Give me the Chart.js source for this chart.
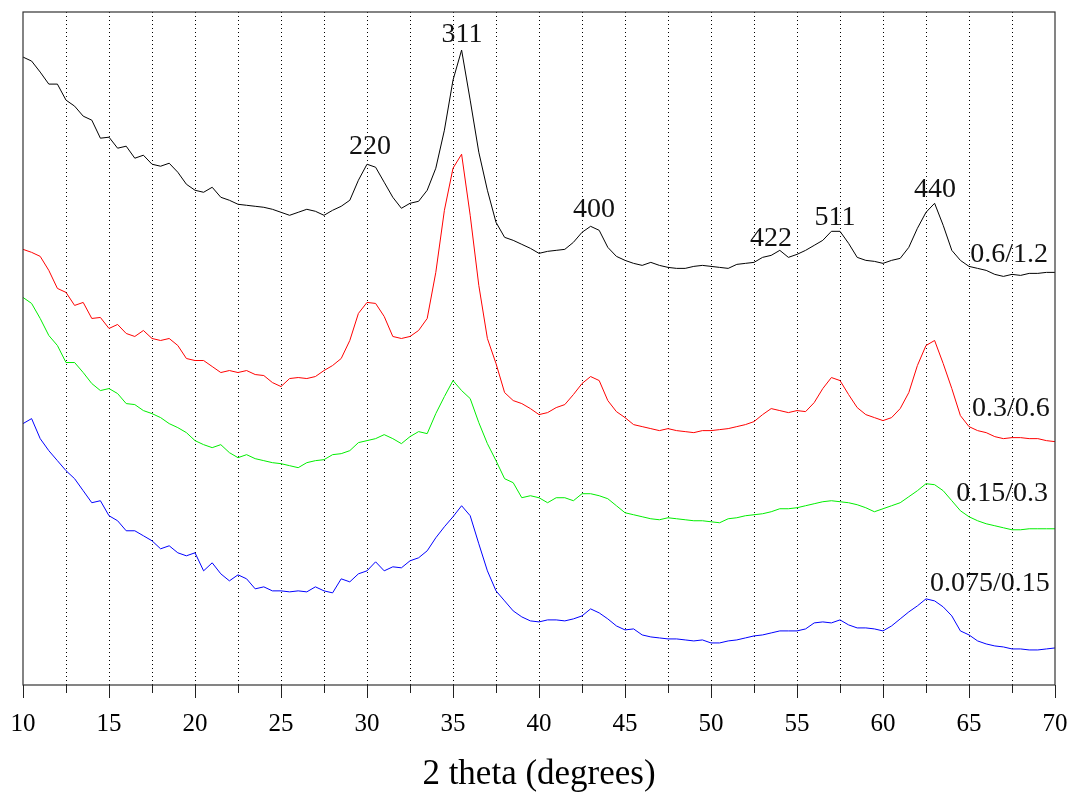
<!DOCTYPE html>
<html>
<head>
<meta charset="utf-8">
<title>XRD</title>
<script src="https://cdn.jsdelivr.net/npm/chart.js@4.4.1/dist/chart.umd.min.js"></script>
<style>
  html, body { margin: 0; padding: 0; background: #fff; }
  #wrap { width: 1073px; height: 796px; }
</style>
</head>
<body>
<div id="wrap"><canvas id="grafico" width="1073" height="796"></canvas></div>
<script>
// eje x: 2 theta en grados
const twoTheta = [
  10, 10.5, 11, 11.5, 12, 12.5, 13, 13.5, 14, 14.5,
  15, 15.5, 16, 16.5, 17, 17.5, 18, 18.5, 19, 19.5,
  20, 20.5, 21, 21.5, 22, 22.5, 23, 23.5, 24, 24.5,
  25, 25.5, 26, 26.5, 27, 27.5, 28, 28.5, 29, 29.5,
  30, 30.5, 31, 31.5, 32, 32.5, 33, 33.5, 34, 34.5,
  35, 35.5, 36, 36.5, 37, 37.5, 38, 38.5, 39, 39.5,
  40, 40.5, 41, 41.5, 42, 42.5, 43, 43.5, 44, 44.5,
  45, 45.5, 46, 46.5, 47, 47.5, 48, 48.5, 49, 49.5,
  50, 50.5, 51, 51.5, 52, 52.5, 53, 53.5, 54, 54.5,
  55, 55.5, 56, 56.5, 57, 57.5, 58, 58.5, 59, 59.5,
  60, 60.5, 61, 61.5, 62, 62.5, 63, 63.5, 64, 64.5,
  65, 65.5, 66, 66.5, 67, 67.5, 68, 68.5, 69, 69.5,
  70
];

// intensidades (u.a., con desplazamiento vertical) de cada muestra
const int06 = [
  627, 623, 612, 600, 600, 584, 578, 568, 564, 546,
  547, 536, 538, 526, 529, 520, 518, 521, 512, 500,
  494, 492, 497, 487, 484, 480, 479, 478, 477, 475,
  472, 469, 472, 475, 473, 469, 474, 478, 484, 504,
  520, 517, 502, 487, 476, 481, 483, 494, 516, 554,
  604, 634, 584, 532, 494, 462, 447, 444, 440, 436,
  431, 433, 434, 435, 442, 452, 458, 454, 437, 428,
  424, 421, 419, 422, 419, 417, 416, 416, 418, 419,
  418, 417, 416, 420, 421, 422, 427, 429, 434, 427,
  430, 434, 439, 444, 453, 453, 441, 427, 424, 423,
  421, 424, 426, 437, 456, 472, 481, 459, 434, 424,
  418, 416, 414, 410, 408, 410, 409, 411, 411, 412,
  412
];
const int03 = [
  435, 432, 428, 414, 396, 392, 379, 382, 366, 367,
  356, 360, 351, 348, 354, 346, 344, 346, 339, 326,
  324, 324, 318, 312, 314, 312, 314, 310, 309, 302,
  298, 306, 307, 306, 308, 314, 319, 326, 344, 371,
  382, 381, 368, 348, 346, 348, 354, 366, 412, 474,
  516, 530, 469, 399, 346, 321, 292, 284, 281, 276,
  270, 272, 277, 280, 290, 301, 308, 304, 284, 273,
  267, 260, 258, 256, 254, 256, 254, 253, 252, 254,
  254, 255, 256, 258, 260, 263, 270, 276, 274, 272,
  274, 273, 282, 296, 307, 304, 290, 277, 270, 267,
  264, 267, 276, 292, 319, 339, 344, 321, 296, 269,
  258, 254, 252, 248, 246, 247, 247, 246, 246, 244,
  243
];
const int015 = [
  387, 381, 366, 349, 339, 322, 322, 312, 301, 294,
  296, 291, 281, 280, 274, 271, 267, 261, 257, 252,
  244, 240, 237, 240, 232, 227, 230, 226, 224, 222,
  221, 219, 217, 222, 224, 225, 230, 231, 234, 242,
  244, 246, 250, 246, 241, 248, 253, 251, 271, 288,
  304, 294, 286, 262, 241, 224, 206, 202, 187, 189,
  187, 182, 187, 187, 184, 191, 191, 189, 186, 179,
  172, 170, 168, 166, 165, 167, 166, 165, 164, 164,
  163, 162, 166, 167, 169, 170, 171, 173, 176, 176,
  177, 179, 181, 183, 184, 183, 182, 180, 177, 173,
  176, 179, 182, 188, 194, 201, 200, 194, 184, 174,
  168, 164, 161, 159, 157, 155, 155, 156, 156, 156,
  156
];
const int0075 = [
  261, 266, 246, 234, 224, 214, 206, 194, 182, 184,
  169, 164, 154, 154, 149, 144, 136, 139, 132, 129,
  132, 114, 122, 111, 104, 110, 106, 96, 98, 94,
  94, 93, 94, 93, 98, 94, 92, 106, 103, 111,
  114, 123, 114, 118, 117, 124, 127, 134, 147, 158,
  168, 179, 169, 141, 114, 94, 84, 74, 68, 64,
  63, 65, 65, 64, 66, 69, 76, 72, 66, 59,
  55, 56, 50, 48, 47, 46, 46, 45, 44, 45,
  42, 42, 44, 45, 47, 49, 50, 52, 54, 54,
  54, 56, 62, 63, 62, 65, 60, 57, 57, 56,
  54, 59, 66, 73, 79, 86, 84, 78, 69, 54,
  50, 44, 41, 39, 38, 36, 36, 35, 35, 36,
  37
];

// nombres de las muestras y colores
const muestras = ['0.6/1.2', '0.3/0.6', '0.15/0.3', '0.075/0.15'];
const colores = ['#000000', '#ff0000', '#00ee00', '#0000ff'];
const series = [int06, int03, int015, int0075];

// índices de Miller de los picos y dónde va cada rótulo (2theta, intensidad)
const picos = ['220', '311', '400', '422', '511', '440'];
const picosX = [30.17, 35.52, 43.2, 53.49, 57.21, 63.02];
const picosY = [530, 642, 467, 438, 459, 487];

// rótulos de cada curva
const rotulosX = [67.33, 67.44, 66.92, 66.22];
const rotulosY = [422, 269, 184, 94];

const FUENTE = "'Liberation Serif', 'DejaVu Serif', serif";

// marco del gráfico y marcas del eje x (largas cada 5, cortas cada 2.5)
const marcoPlugin = {
  id: 'marco',
  afterDraw(chart) {
    const { ctx, chartArea: a, scales } = chart;
    ctx.save();
    ctx.strokeStyle = '#333';
    ctx.lineWidth = 1.2;
    ctx.strokeRect(a.left, a.top, a.right - a.left, a.bottom - a.top);
    ctx.strokeStyle = '#222';
    ctx.lineWidth = 1;
    for (let v = 10; v <= 70; v += 2.5) {
      const x = Math.round(scales.x.getPixelForValue(v)) + 0.5;
      const largo = v % 5 === 0 ? 13 : 8;
      ctx.beginPath();
      ctx.moveTo(x, a.bottom);
      ctx.lineTo(x, a.bottom + largo);
      ctx.stroke();
    }
    ctx.restore();
  }
};

// texto de los picos y de las muestras
const rotulosPlugin = {
  id: 'rotulos',
  afterDatasetsDraw(chart) {
    const { ctx, scales } = chart;
    ctx.save();
    ctx.fillStyle = '#111';
    ctx.font = '28px ' + FUENTE;
    ctx.textAlign = 'center';
    ctx.textBaseline = 'alphabetic';
    picos.forEach((txt, i) => {
      ctx.fillText(txt, scales.x.getPixelForValue(picosX[i]), scales.y.getPixelForValue(picosY[i]));
    });
    muestras.forEach((txt, i) => {
      ctx.fillText(txt, scales.x.getPixelForValue(rotulosX[i]), scales.y.getPixelForValue(rotulosY[i]));
    });
    ctx.restore();
  }
};

const ctx = document.getElementById('grafico').getContext('2d');
new Chart(ctx, {
  type: 'line',
  data: {
    datasets: series.map((vals, i) => ({
      label: muestras[i],
      data: twoTheta.map((t, j) => ({ x: t, y: vals[j] })),
      borderColor: colores[i],
      borderWidth: 1,
      pointRadius: 0,
      tension: 0,
      fill: false
    }))
  },
  options: {
    responsive: false,
    animation: false,
    layout: { padding: { left: 23, right: 18, top: 12, bottom: 0 } },
    plugins: {
      legend: { display: false },
      tooltip: { enabled: false }
    },
    scales: {
      x: {
        type: 'linear',
        min: 10,
        max: 70,
        border: { display: false, dash: [1, 3] },
        grid: {
          drawTicks: true,
          tickLength: 22,
          tickColor: 'rgba(0,0,0,0)',
          lineWidth: 1,
          color: c => (c.tick && (c.tick.value === 10 || c.tick.value === 70)) ? 'rgba(0,0,0,0)' : '#000'
        },
        ticks: {
          stepSize: 2.5,
          autoSkip: false,
          maxRotation: 0,
          padding: 2,
          color: '#000',
          font: { family: FUENTE, size: 25 },
          callback: v => (v % 5 === 0 ? String(v) : '')
        },
        title: {
          display: true,
          text: '2 theta (degrees)',
          color: '#000',
          font: { family: FUENTE, size: 35 },
          padding: { top: 13, bottom: 0 }
        }
      },
      y: {
        display: false,
        min: 0,
        max: 672
      }
    }
  },
  plugins: [marcoPlugin, rotulosPlugin]
});
</script>
</body>
</html>
